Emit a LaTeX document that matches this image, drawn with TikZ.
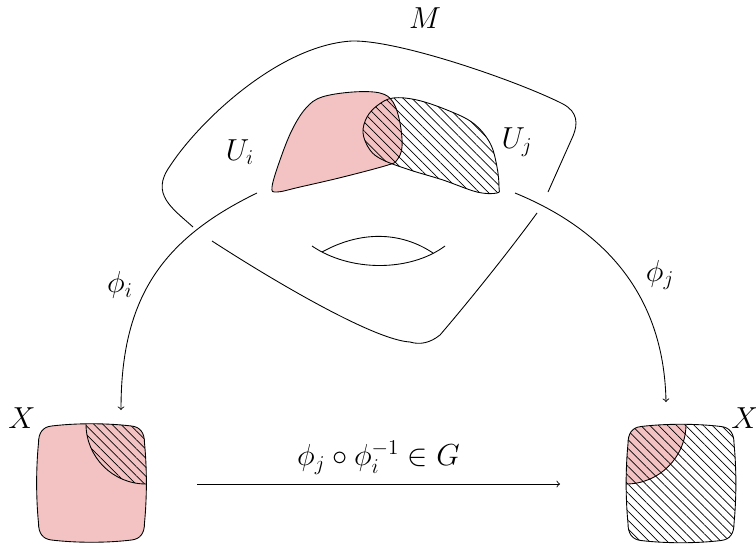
\documentclass[tikz,border=0pt]{standalone}
\usetikzlibrary{patterns.meta}
\definecolor{patch}{HTML}{F3C3C3}

% outline of a chart domain, centred at the origin
\def\chartpath{(-40,-57) .. controls (-15,-60) and (15,-60) .. (40,-57)
  .. controls (49,-56) and (53,-50) .. (53,-40)
  .. controls (55.5,-14) and (55.5,14) .. (53,40)
  .. controls (53,50) and (49,56) .. (40,57)
  .. controls (15,60) and (-15,60) .. (-40,57)
  .. controls (-49,56) and (-53,50) .. (-53,40)
  .. controls (-55.5,14) and (-55.5,-14) .. (-53,-40)
  .. controls (-53,-50) and (-49,-56) .. (-40,-57) -- cycle}

\begin{document}
\begin{tikzpicture}[x=0.02cm,y=-0.02cm,>=to,font=\LARGE,line width=0.5pt,
hatch/.style={pattern={Lines[angle=-45,distance=3.6pt,line width=0.4pt]}},
pinkfill/.style={fill=patch},
map/.style={->}]
\useasboundingbox (0,0) rectangle (756,545);

% the manifold
\draw (193,227) .. controls (172,208) and (150,194) .. (170,166)
  .. controls (200,120) and (280,45) .. (352,41)
  .. controls (400,40) and (520,82) .. (563,104)
  .. controls (578,112) and (578,124) .. (573,136) -- (548,192);
\draw (212,241) .. controls (280,285) and (375,340) .. (410,342)
  .. controls (420,345) and (430,343) .. (440,335)
  .. controls (470,300) and (510,250) .. (537,213);
\draw (312,246) .. controls (350,272) and (410,272) .. (445,246);
\draw (322,252) .. controls (360,231) and (400,231) .. (433,253);
\node (M) at (425,18) {$M$};

% the patches
\draw[pinkfill] plot[smooth cycle,tension=0.6] coordinates {(272,187) (280,160) (292,130) (306,108) (322,97) (353,92) (380,93) (393,102) (400,123) (402,147) (397,160) (388,165) (343,177) (300,187) (277,192)};
\draw[hatch] plot[smooth cycle,tension=0.6] coordinates {(363,133) (367,117) (378,105) (393,98) (417,100) (447,110) (473,123) (490,143) (497,167) (499,187) (497,193) (477,192) (443,180) (410,170) (383,160) (370,150)};
\node (Ui) at (240,152) {$U_i$};
\node (Uj) at (517,142) {$U_j$};

% chart images
\begin{scope}[shift={(91.5,483)}]
  \fill[patch] \chartpath;
  \begin{scope}
    \clip \chartpath;
    \fill[hatch] (54.5,-59) circle (60);
    \draw (54.5,-59) circle (60);
  \end{scope}
  \draw \chartpath;
  \coordinate (Xi) at (29.5,-73);
\end{scope}
\node (X1) at (22,418) {$X$};

\begin{scope}[shift={(681,483.5)}]
  \begin{scope}
    \clip \chartpath;
    \fill[patch] (-55,-59.5) circle (60);
    \draw (-55,-59.5) circle (60);
  \end{scope}
  \fill[hatch] \chartpath;
  \draw \chartpath;
  \coordinate (Xj) at (-15,-81.5);
\end{scope}
\node (X2) at (745,418) {$X$};

% the maps
\coordinate (Ui-out) at (257,193);
\coordinate (Uj-out) at (515,193);
\draw[map] (Ui-out) .. controls (160,240) and (121,300) .. (Xi);
\draw[map] (Uj-out) .. controls (610,232) and (664,300) .. (Xj);
\node (phii) at (120,285) {$\phi_i$};
\node (phij) at (660,275) {$\phi_j$};

\coordinate (trans-start) at (197,484);
\coordinate (trans-end) at (560,484);
\draw[map] (trans-start) -- node[above=2pt] (trans) {$\phi_j\circ\phi_i^{-1}\in G$} (trans-end);
\end{tikzpicture}
\end{document}
